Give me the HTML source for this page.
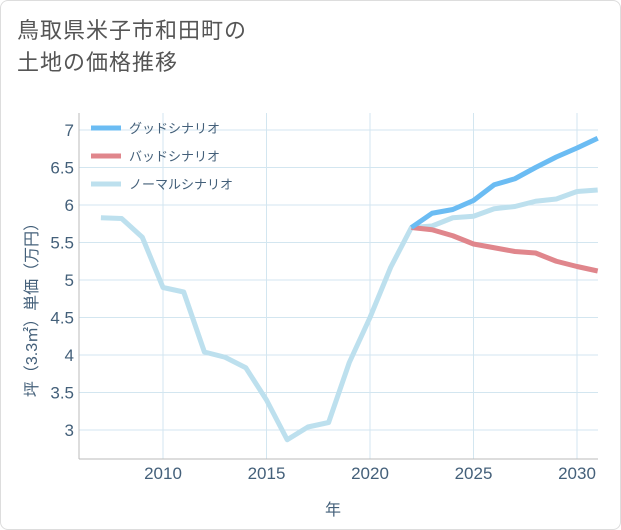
<!DOCTYPE html>
<html><head><meta charset="utf-8"><style>
body{margin:0;background:#fff;font-family:"Liberation Sans","Noto Sans CJK JP",sans-serif;}
#wrap{position:relative;width:621px;height:530px;box-sizing:border-box;border:1px solid #ddd;border-radius:8px;background:#fff;overflow:hidden}
#title{position:absolute;left:16px;top:14px;font-size:22px;line-height:32px;color:#555;letter-spacing:1px}
svg{position:absolute;left:0;top:0}
</style></head><body>
<div id="wrap">
<div id="title">鳥取県米子市和田町の<br>土地の価格推移</div>
<svg id="chart" width="621" height="530"></svg>
</div>
<script>
const normalYears=[2007,2008,2009,2010,2011,2012,2013,2014,2015,2016,2017,2018,2019,2020,2021,2022,2023,2024,2025,2026,2027,2028,2029,2030,2031];
const normalValues=[5.83,5.82,5.57,4.90,4.84,4.04,3.97,3.83,3.40,2.87,3.04,3.10,3.90,4.50,5.17,5.70,5.72,5.83,5.85,5.95,5.98,6.05,6.08,6.18,6.20];
const scenarioYears=[2022,2023,2024,2025,2026,2027,2028,2029,2030,2031];
const goodValues=[5.70,5.89,5.94,6.06,6.27,6.35,6.50,6.64,6.76,6.89];
const badValues=[5.70,5.67,5.59,5.48,5.43,5.38,5.36,5.25,5.18,5.12];
const xTicks=[2010,2015,2020,2025,2030];
const yTicks=[3,3.5,4,4.5,5,5.5,6,6.5,7];
const legendLabels=["グッドシナリオ","バッドシナリオ","ノーマルシナリオ"];
const colors=["#6bbcf3","#e0868c","#bde0ee"];

const svg=document.getElementById('chart');
const NS="http://www.w3.org/2000/svg";
const TXT='#44607a';
const L=78,R=597,T=112,B=458;
const x=y=>162+(y-2010)*(576-162)/20;
const yS=v=>429-(v-3)*75;
function mk(tag,attrs){const e=document.createElementNS(NS,tag);for(const k in attrs)e.setAttribute(k,attrs[k]);svg.appendChild(e);return e;}
xTicks.forEach(t=>{
 const g=mk('line',{x1:x(t),x2:x(t),y1:T,y2:B,stroke:'#d3e6f0','stroke-width':1});
 
 
 const tx=mk('text',{x:x(t),y:478,'text-anchor':'middle','font-size':17,fill:TXT});
 tx.textContent=t;
 
 
});
yTicks.forEach(t=>{
 const g=mk('line',{x1:L,x2:R,y1:yS(t),y2:yS(t),stroke:'#d3e6f0','stroke-width':1});
 
 
 const tx=mk('text',{x:73,y:yS(t)+6,'text-anchor':'end','font-size':17,fill:TXT});
 tx.textContent=t;
 
 
});
const ax=mk('line',{x1:L,x2:L,y1:T,y2:B,stroke:'#bbb'});


const bx=mk('line',{x1:L,x2:R,y1:B,y2:B,stroke:'#bbb'});


const xt=mk('text',{x:332,y:514,'text-anchor':'middle','font-size':16,fill:TXT});
xt.textContent='年';


const yt=mk('text',{x:0,y:0,'text-anchor':'middle','font-size':16,fill:TXT,transform:'translate(36,305) rotate(-90)'});
yt.textContent='坪（3.3㎡）単価（万円）';


function line(xs,vs,c,name){
 const d=xs.map((yr,i)=>(i?'L':'M')+x(yr)+','+yS(vs[i])).join(' ');
 const p=mk('path',{d:d,fill:'none',stroke:c,'stroke-width':5,'stroke-linejoin':'round'});
 
 
}
line(normalYears,normalValues,colors[2],'normal-scenario-line');
line(scenarioYears,badValues,colors[1],'bad-scenario-line');
line(scenarioYears,goodValues,colors[0],'good-scenario-line');
legendLabels.forEach((lb,i)=>{
 const yy=127+i*28;
 const s=mk('line',{x1:90,x2:120,y1:yy,y2:yy,stroke:colors[i],'stroke-width':5});
 
 
 const t=mk('text',{x:128,y:yy+5,'font-size':13,fill:TXT});
 t.textContent=lb;
 
 
});
</script>
</body></html>
